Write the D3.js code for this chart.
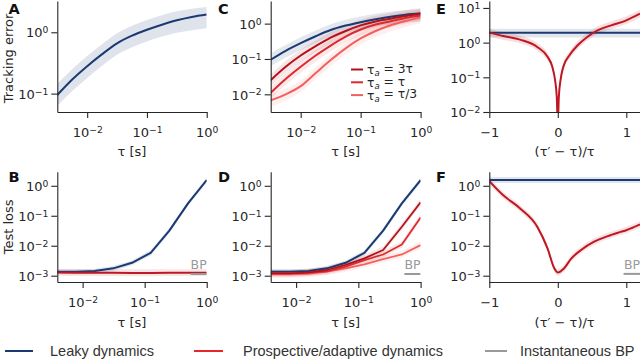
<!DOCTYPE html>
<html>
<head>
<meta charset="utf-8">
<script src="https://cdn.jsdelivr.net/npm/d3@7"></script>
<style>
  body { margin: 0; background: #fff; }
  svg { display: block; font-family: "DejaVu Sans", sans-serif; }
</style>
</head>
<body>
<div id="chart"></div>
<script>
// ---- data ----
// fine tau grid (panels A, C), seconds
var tauFine = [0.00316, 0.00562, 0.01, 0.0178, 0.0316, 0.0562, 0.1, 0.178, 0.316, 0.562, 1];
// training tau grid (panels B, D): 2^-8 .. 2^0
var tauGrid = [0.00390625, 0.0078125, 0.015625, 0.03125, 0.0625, 0.125, 0.25, 0.5, 1];

// A / C: tracking error
var trackLeaky   = [0.095, 0.17, 0.28, 0.44, 0.66, 0.88, 1.1, 1.33, 1.57, 1.78, 1.95];
var trackLeakyLo = [0.063, 0.11, 0.18, 0.285, 0.43, 0.57, 0.71, 0.85, 0.98, 1.08, 1.16];
var trackLeakyHi = [0.145, 0.25, 0.41, 0.64, 0.96, 1.28, 1.58, 1.9, 2.2, 2.42, 2.58];
var track3  = [0.025, 0.06, 0.125, 0.23, 0.4, 0.62, 0.89, 1.15, 1.38, 1.65, 1.9];
var trackT  = [0.011, 0.027, 0.06, 0.125, 0.24, 0.43, 0.68, 0.94, 1.17, 1.45, 1.7];
var trackT3 = [0.0068, 0.01, 0.017, 0.04, 0.093, 0.2, 0.38, 0.62, 0.9, 1.18, 1.5];
var trackRedBand = [0.68, 1.45];   // lower / upper factor of the pink bands

// B / D: test loss
var lossLeaky = [1.36e-3, 1.36e-3, 1.43e-3, 1.76e-3, 2.7e-3, 5.8e-3, 0.032, 0.26, 1.55];
var lossProsp = [1.28e-3, 1.26e-3, 1.25e-3, 1.25e-3, 1.24e-3, 1.24e-3, 1.25e-3, 1.25e-3, 1.25e-3];
var loss3  = [1.2e-3, 1.2e-3, 1.3e-3, 1.55e-3, 2.3e-3, 3.8e-3, 7.2e-3, 0.043, 0.28];
var lossT  = [1.2e-3, 1.2e-3, 1.25e-3, 1.4e-3, 2.0e-3, 3.3e-3, 5.1e-3, 0.011, 0.087];
var lossT3 = [1.1e-3, 1.1e-3, 1.15e-3, 1.36e-3, 1.75e-3, 2.4e-3, 3.6e-3, 5.1e-3, 0.0105];
var lossLeakyBand = [0.82, 1.2];
var lossRedBand = [0.78, 1.32];
var bpLoss = 1.15e-3;

// E / F: mismatch (tau' - tau) / tau
var devTrackX = [-1, -0.8, -0.55, -0.3, -0.15, -0.08, -0.04, -0.015, 0, 0.015, 0.04, 0.08, 0.17, 0.29, 0.43, 0.58, 0.78, 1.0, 1.2];
var devTrack  = [1.94, 1.55, 1.22, 0.75, 0.39, 0.2, 0.083, 0.027, 0.004, 0.027, 0.083, 0.2, 0.43, 0.84, 1.46, 2.26, 3.15, 4.4, 6.8];
var devTrackLeaky = 1.94, devTrackLeakyBand = [1.4, 2.5];
var devLossX = [-1, -0.8, -0.55, -0.3, -0.15, -0.05, 0, 0.09, 0.19, 0.34, 0.53, 0.73, 0.92, 1.0, 1.2];
var devLoss  = [1.43, 0.49, 0.175, 0.043, 8.1e-3, 1.75e-3, 1.29e-3, 1.75e-3, 3.6e-3, 7.2e-3, 0.0136, 0.021, 0.029, 0.033, 0.051];
var devLossLeaky = 1.55, devLossLeakyBand = [1.25, 1.95];
var devRedBand = [0.78, 1.3];

var legendC = ["3\u03c4", "\u03c4", "\u03c4/3"];
var legendBottom = ["Leaky dynamics", "Prospective/adaptive dynamics", "Instantaneous BP"];

// ---- styling ----
var navy = "#1b3a72", red3 = "#b3121d", redT = "#dc2a2f", redT3 = "#f2605e",
    redE = "#bf1822", redLeg = "#e8262d", bpGray = "#999", ink = "#262626";

var svg = d3.select("#chart").append("svg")
  .attr("width", 640).attr("height", 359);

var top1 = 1, bot1 = 112, top2 = 171.7, bot2 = 282;
var colA = [57.3, 206.7], colC = [270.7, 420.6], colE = [489.3, 640];

function supText(sel, base, exp) {
  sel.text(null);
  sel.append("tspan").text(base);
  sel.append("tspan").attr("dy", "-0.45em").attr("font-size", "9.2px").text(exp);
}
function expLabel(v) {
  var e = Math.round(Math.log10(v));
  return e < 0 ? "\u2212" + (-e) : "" + e;
}

function leftLogAxis(g, y, x0, ticks) {
  var ax = g.append("g").attr("transform", "translate(" + x0 + ",0)")
    .call(d3.axisLeft(y).tickValues(ticks).tickSize(6).tickSizeOuter(0).tickPadding(3));
  ax.selectAll("text").attr("dy", "0.36em").each(function(d) {
    supText(d3.select(this), "10", expLabel(d));
  });
  styleAxis(ax);
}
function bottomAxis(g, x, y0, ticks, isLog) {
  var ax = g.append("g").attr("transform", "translate(0," + y0 + ")")
    .call(d3.axisBottom(x).tickValues(ticks).tickSize(6).tickSizeOuter(0));
  ax.selectAll("text").attr("y", 25).attr("dy", null).each(function(d) {
    if (isLog) supText(d3.select(this), "10", expLabel(d));
    else d3.select(this).text(d < 0 ? "\u2212" + (-d) : d);
  });
  styleAxis(ax);
}
function styleAxis(ax) {
  ax.select(".domain").attr("stroke", ink).attr("stroke-width", 1.1);
  ax.selectAll(".tick line").attr("stroke", ink).attr("stroke-width", 1.1);
  ax.selectAll("text").attr("fill", ink).attr("font-size", "13px")
    .attr("font-family", "DejaVu Sans, sans-serif");
}

var clipN = 0;
function plotArea(x, y) {
  clipN++;
  svg.append("clipPath").attr("id", "clip" + clipN).append("rect")
    .attr("x", x.range()[0]).attr("y", y.range()[1])
    .attr("width", x.range()[1] - x.range()[0]).attr("height", y.range()[0] - y.range()[1]);
  return svg.append("g").attr("clip-path", "url(#clip" + clipN + ")");
}

function drawBand(g, x, y, xs, lo, hi, color, op, curve) {
  var rows = xs.map(function(v, i) { return { x: v, lo: lo[i], hi: hi[i] }; });
  g.append("path").datum(rows)
    .attr("fill", color).attr("fill-opacity", op).attr("stroke", "none")
    .attr("d", d3.area().curve(curve)
      .x(function(d) { return x(d.x); })
      .y0(function(d) { return y(d.lo); })
      .y1(function(d) { return y(d.hi); }));
}
function drawLine(g, x, y, xs, ys, color, w, curve) {
  var rows = xs.map(function(v, i) { return { x: v, y: ys[i] }; });
  g.append("path").datum(rows)
    .attr("fill", "none").attr("stroke", color).attr("stroke-width", w)
    .attr("stroke-linejoin", "round")
    .attr("d", d3.line().curve(curve)
      .x(function(d) { return x(d.x); })
      .y(function(d) { return y(d.y); }));
}
function scaled(arr, f) { return arr.map(function(v) { return v * f; }); }
function constant(xs, v) { return xs.map(function() { return v; }); }

function panelLetter(txt, px, py) {
  svg.append("text").attr("x", px).attr("y", py).text(txt)
    .attr("font-size", "14.5px").attr("font-weight", "bold").attr("fill", "#111");
}
function xLabel(txt, x, y0) {
  svg.append("text").attr("x", (x.range()[0] + x.range()[1]) / 2).attr("y", y0)
    .attr("text-anchor", "middle").attr("font-size", "13px").attr("fill", ink).text(txt);
}
function yLabel(txt, cy) {
  svg.append("text").attr("transform", "translate(12.5," + cy + ") rotate(-90)")
    .attr("text-anchor", "middle").attr("font-size", "13px").attr("fill", ink).text(txt);
}
function bpMark(g, x, y, span) {
  drawLine(g, x, y, span, constant(span, bpLoss), bpGray, 2, d3.curveLinear);
  svg.append("text").attr("x", x.range()[1]).attr("y", y(bpLoss) - 5)
    .attr("text-anchor", "end").attr("font-size", "12.5px").attr("fill", bpGray).text("BP");
}

var smooth = d3.curveMonotoneX, straight = d3.curveLinear;

// ---- A ----
(function() {
  var x = d3.scaleLog().domain([Math.pow(10, -2.5), 1]).range(colA);
  var y = d3.scaleLog().domain([Math.pow(10, -1.3), Math.pow(10, 0.51)]).range([bot1, top1]);
  var g = plotArea(x, y);
  drawBand(g, x, y, tauFine, trackLeakyLo, trackLeakyHi, navy, 0.14, smooth);
  drawLine(g, x, y, tauFine, trackLeaky, navy, 2, smooth);
  leftLogAxis(svg, y, colA[0], [0.1, 1]);
  bottomAxis(svg, x, bot1, [0.01, 0.1, 1], true);
  yLabel("Tracking error", 58.5);
  panelLetter("A", 8.5, 14);
  xLabel("\u03c4 [s]", x, 156);
})();

// ---- C ----
(function() {
  var x = d3.scaleLog().domain([Math.pow(10, -2.5), 1]).range(colC);
  var y = d3.scaleLog().domain([Math.pow(10, -2.5), Math.pow(10, 0.64)]).range([bot1, top1]);
  var g = plotArea(x, y);
  drawBand(g, x, y, tauFine, trackLeakyLo, trackLeakyHi, navy, 0.12, smooth);
  [[trackT3, redT3], [trackT, redT], [track3, red3]].forEach(function(s) {
    drawBand(g, x, y, tauFine, scaled(s[0], trackRedBand[0]), scaled(s[0], trackRedBand[1]), s[1], 0.11, smooth);
  });
  drawLine(g, x, y, tauFine, trackLeaky, navy, 2, smooth);
  drawLine(g, x, y, tauFine, trackT3, redT3, 2, smooth);
  drawLine(g, x, y, tauFine, trackT, redT, 2, smooth);
  drawLine(g, x, y, tauFine, track3, red3, 2, smooth);
  leftLogAxis(svg, y, colC[0], [0.01, 0.1, 1]);
  bottomAxis(svg, x, bot1, [0.01, 0.1, 1], true);
  panelLetter("C", 218, 14);
  xLabel("\u03c4 [s]", x, 156);

  var leg = svg.append("g").attr("transform", "translate(351,69.5)");
  var cols = [red3, redT, redT3];
  legendC.forEach(function(t, i) {
    var row = leg.append("g").attr("transform", "translate(0," + (i * 12.8) + ")");
    row.append("line").attr("x1", 0).attr("x2", 12).attr("y1", 0).attr("y2", 0)
      .attr("stroke", cols[i]).attr("stroke-width", 2);
    var tx = row.append("text").attr("x", 16).attr("y", 4.4).attr("font-size", "12.3px").attr("fill", ink);
    tx.append("tspan").text("\u03c4");
    tx.append("tspan").attr("dy", "0.3em").attr("font-size", "8.5px").attr("font-style", "italic").text("a");
    tx.append("tspan").attr("dy", "-0.3em").text(" = " + t);
  });
})();

// ---- E ----
(function() {
  var x = d3.scaleLinear().domain([-1, 1.2]).range(colE);
  var y = d3.scaleLog().domain([0.01, Math.pow(10, 1.2)]).range([bot1, top1]);
  var g = plotArea(x, y);
  var xs = [-1, 1.2];
  drawBand(g, x, y, xs, constant(xs, devTrackLeakyBand[0]), constant(xs, devTrackLeakyBand[1]), navy, 0.13, straight);
  drawBand(g, x, y, devTrackX, scaled(devTrack, devRedBand[0]), scaled(devTrack, devRedBand[1]), redE, 0.14, smooth);
  drawLine(g, x, y, xs, constant(xs, devTrackLeaky), navy, 2, straight);
  drawLine(g, x, y, devTrackX, devTrack, redE, 2, smooth);
  leftLogAxis(svg, y, colE[0], [0.01, 0.1, 1, 10]);
  bottomAxis(svg, x, bot1, [-1, 0, 1], false);
  panelLetter("E", 436, 14);
  xLabel("(\u03c4\u2032 \u2212 \u03c4)/\u03c4", x, 156);
})();

// ---- B ----
(function() {
  var x = d3.scaleLog().domain([tauGrid[0], 1]).range(colA);
  var y = d3.scaleLog().domain([Math.pow(10, -3.21), Math.pow(10, 0.47)]).range([bot2, top2]);
  var g = plotArea(x, y);
  drawBand(g, x, y, tauGrid, scaled(lossLeaky, lossLeakyBand[0]), scaled(lossLeaky, lossLeakyBand[1]), navy, 0.13, straight);
  drawBand(g, x, y, tauGrid, scaled(lossProsp, lossRedBand[0]), scaled(lossProsp, lossRedBand[1]), redE, 0.11, straight);
  drawLine(g, x, y, tauGrid, lossLeaky, navy, 2, straight);
  drawLine(g, x, y, tauGrid, lossProsp, redE, 2, straight);
  bpMark(g, x, y, [0.55, 1]);
  leftLogAxis(svg, y, colA[0], [1e-3, 1e-2, 0.1, 1]);
  bottomAxis(svg, x, bot2, [0.01, 0.1, 1], true);
  yLabel("Test loss", (top2 + bot2) / 2);
  panelLetter("B", 8.5, 182);
  xLabel("\u03c4 [s]", x, 327);
})();

// ---- D ----
(function() {
  var x = d3.scaleLog().domain([tauGrid[0], 1]).range(colC);
  var y = d3.scaleLog().domain([Math.pow(10, -3.21), Math.pow(10, 0.47)]).range([bot2, top2]);
  var g = plotArea(x, y);
  drawBand(g, x, y, tauGrid, scaled(lossLeaky, lossLeakyBand[0]), scaled(lossLeaky, lossLeakyBand[1]), navy, 0.13, straight);
  [[lossT3, redT3], [lossT, redT], [loss3, red3]].forEach(function(s) {
    drawBand(g, x, y, tauGrid, scaled(s[0], lossRedBand[0]), scaled(s[0], lossRedBand[1]), s[1], 0.11, straight);
  });
  drawLine(g, x, y, tauGrid, lossLeaky, navy, 2, straight);
  drawLine(g, x, y, tauGrid, lossT3, redT3, 1.8, straight);
  drawLine(g, x, y, tauGrid, lossT, redT, 1.8, straight);
  drawLine(g, x, y, tauGrid, loss3, red3, 1.8, straight);
  bpMark(g, x, y, [0.55, 1]);
  leftLogAxis(svg, y, colC[0], [1e-3, 1e-2, 0.1, 1]);
  bottomAxis(svg, x, bot2, [0.01, 0.1, 1], true);
  panelLetter("D", 218, 182);
  xLabel("\u03c4 [s]", x, 327);
})();

// ---- F ----
(function() {
  var x = d3.scaleLinear().domain([-1, 1.2]).range(colE);
  var y = d3.scaleLog().domain([Math.pow(10, -3.21), Math.pow(10, 0.47)]).range([bot2, top2]);
  var g = plotArea(x, y);
  var xs = [-1, 1.2];
  drawBand(g, x, y, xs, constant(xs, devLossLeakyBand[0]), constant(xs, devLossLeakyBand[1]), navy, 0.13, straight);
  drawBand(g, x, y, devLossX, scaled(devLoss, devRedBand[0]), scaled(devLoss, devRedBand[1]), redE, 0.12, smooth);
  drawLine(g, x, y, xs, constant(xs, devLossLeaky), navy, 2, straight);
  drawLine(g, x, y, devLossX, devLoss, redE, 2, smooth);
  bpMark(g, x, y, [0.96, 1.2]);
  leftLogAxis(svg, y, colE[0], [1e-3, 1e-2, 0.1, 1]);
  bottomAxis(svg, x, bot2, [-1, 0, 1], false);
  panelLetter("F", 436, 182);
  xLabel("(\u03c4\u2032 \u2212 \u03c4)/\u03c4", x, 327);
})();

// ---- bottom legend ----
var legItems = [
  { label: legendBottom[0], color: navy,   x1: 5,   x2: 33,  tx: 50 },
  { label: legendBottom[1], color: redLeg, x1: 194, x2: 223, tx: 243 },
  { label: legendBottom[2], color: bpGray, x1: 485, x2: 507, tx: 520 }
];
var legB = svg.append("g").attr("transform", "translate(0,351)");
legItems.forEach(function(d) {
  legB.append("line").attr("x1", d.x1).attr("x2", d.x2).attr("y1", 0).attr("y2", 0)
    .attr("stroke", d.color).attr("stroke-width", 2);
  legB.append("text").attr("x", d.tx).attr("y", 5.2).text(d.label)
    .attr("font-family", "Liberation Sans, Arial, sans-serif").attr("font-size", "14.5px").attr("fill", "#333");
});
</script>
</body>
</html>
